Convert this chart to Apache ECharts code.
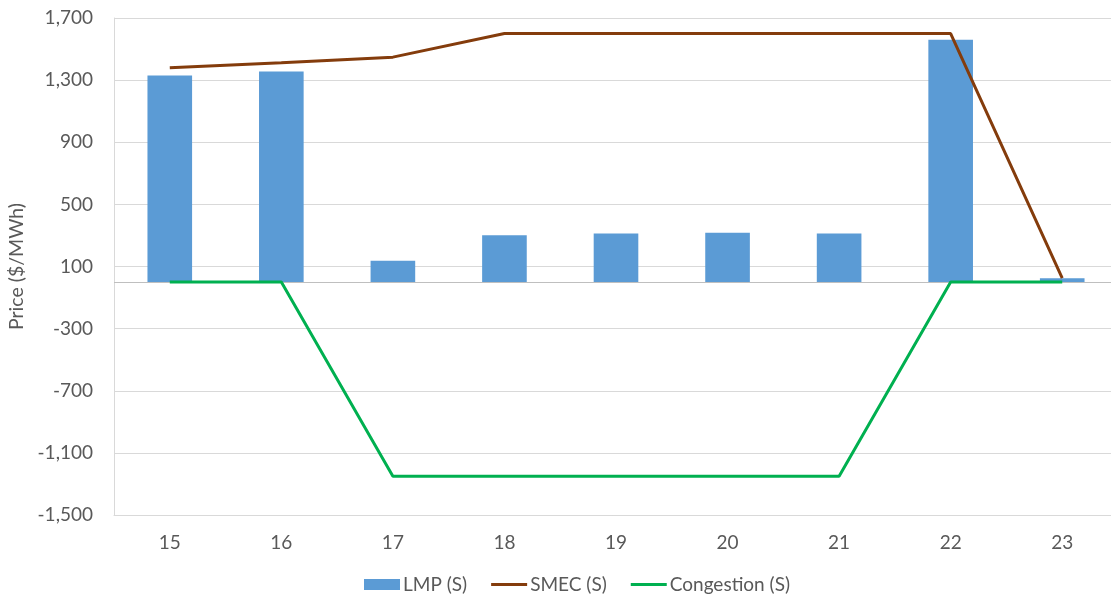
<!DOCTYPE html>
<html>
<head>
<meta charset="utf-8">
<script src="https://cdn.jsdelivr.net/npm/echarts@6/dist/echarts.min.js"></script>
<style>
  html, body { margin: 0; padding: 0; background: #fff; overflow: hidden; }
  #chart { width: 1111px; height: 600px; }
</style>
</head>
<body>
<div id="chart"></div>
<script>
// Hourly price components ($/MWh)
const hours = ['15', '16', '17', '18', '19', '20', '21', '22', '23'];
const lmp = [1330, 1355, 137, 302, 312, 318, 312, 1560, 25];
const smec = [1380, 1412, 1448, 1600, 1600, 1600, 1600, 1600, 25];
const congestion = [0, 0, -1250, -1250, -1250, -1250, -1250, 0, 0];

const yMin = -1500, yMax = 1700, yStep = 400;

const font = 'Lato, "Open Sans", sans-serif';
const textColor = '#595959';
const lineIcon = 'path://M0,0 L37,0 L37,3 L0,3 Z';

const chart = echarts.init(document.getElementById('chart'));
chart.setOption({
  animation: false,
  textStyle: { fontFamily: font },
  grid: {
    left: 114, width: 1004, top: 18, bottom: 85,
    containLabel: false, outerBoundsMode: 'none'
  },
  legend: {
    bottom: 1,
    left: 359,
    itemGap: 24,
    itemWidth: 36,
    itemHeight: 11,
    symbolKeepAspect: true,
    textStyle: { fontFamily: font, fontSize: 19, color: textColor, padding: [0, 0, 0, -2] },
    data: [
      { name: 'LMP (S)', icon: 'rect' },
      { name: 'SMEC (S)', icon: lineIcon },
      { name: 'Congestion (S)', icon: lineIcon }
    ]
  },
  xAxis: {
    type: 'category',
    data: hours,
    axisLine: { onZero: false, lineStyle: { color: '#d9d9d9' } },
    axisTick: { show: false },
    axisLabel: { fontFamily: font, fontSize: 19, color: textColor, margin: 18 }
  },
  yAxis: {
    type: 'value',
    min: yMin,
    max: yMax,
    interval: yStep,
    name: 'Price ($/MWh)',
    nameLocation: 'middle',
    nameGap: 84,
    nameTextStyle: { fontFamily: font, fontSize: 19.5, color: textColor },
    axisLine: { show: true, lineStyle: { color: '#d9d9d9' } },
    axisTick: { show: false },
    splitLine: { lineStyle: { color: '#d9d9d9', width: 1 } },
    axisLabel: {
      fontFamily: font, fontSize: 19, color: textColor, margin: 21,
      formatter: v => v.toLocaleString('en-US')
    }
  },
  series: [
    {
      name: 'LMP (S)',
      type: 'bar',
      data: lmp,
      barWidth: '40%',
      itemStyle: { color: '#5b9bd5' },
      markLine: {
        silent: true,
        z: 1,
        symbol: 'none',
        label: { show: false },
        lineStyle: { color: '#bfbfbf', width: 1, type: 'solid' },
        data: [{ yAxis: 0 }]
      }
    },
    {
      name: 'SMEC (S)',
      type: 'line',
      z: 3,
      data: smec,
      symbol: 'none',
      lineStyle: { color: '#843c0c', width: 3 },
      itemStyle: { color: '#843c0c' }
    },
    {
      name: 'Congestion (S)',
      type: 'line',
      z: 3,
      data: congestion,
      symbol: 'none',
      lineStyle: { color: '#00b050', width: 3 },
      itemStyle: { color: '#00b050' }
    }
  ]
});
</script>
</body>
</html>
